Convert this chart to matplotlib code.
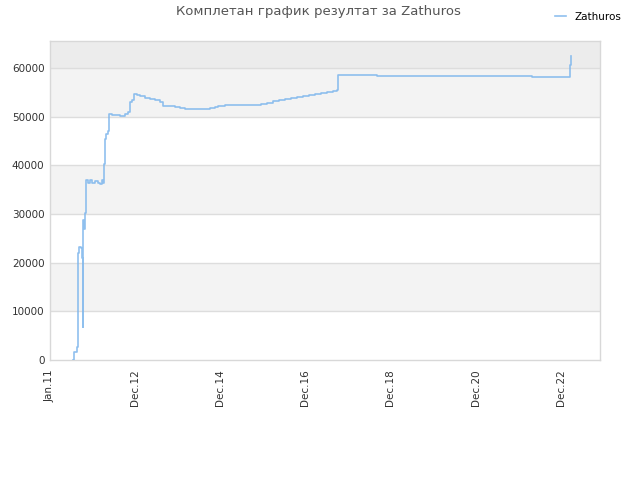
import matplotlib
matplotlib.use("Agg")
import matplotlib.pyplot as plt
import pandas as pd

title = "Комплетан график резултат за Zathuros"
series_name = "Zathuros"

dates = [
    "2011-07-14", "2011-07-25", "2011-08-20", "2011-08-26", "2011-08-31",
    "2011-09-06", "2011-09-23", "2011-10-02", "2011-10-08", "2011-10-13",
    "2011-10-19", "2011-10-28", "2011-11-05", "2011-11-22", "2011-12-10",
    "2011-12-27", "2012-01-21", "2012-02-16", "2012-03-04", "2012-03-21",
    "2012-03-30", "2012-04-08", "2012-04-16", "2012-04-25", "2012-05-12",
    "2012-05-25", "2012-06-15", "2012-07-11", "2012-08-23", "2012-10-05",
    "2012-10-31", "2012-11-17", "2012-12-04", "2012-12-21", "2013-01-16",
    "2013-02-11", "2013-03-26", "2013-05-08", "2013-06-20", "2013-08-01",
    "2013-08-27", "2013-10-26", "2013-12-08", "2014-01-20", "2014-03-04",
    "2014-07-10", "2014-10-04", "2014-11-16", "2014-12-12", "2015-02-10",
    "2015-06-19", "2015-10-25", "2015-12-15", "2016-02-05", "2016-03-27",
    "2016-05-18", "2016-07-08", "2016-08-29", "2016-10-19", "2016-12-09",
    "2017-01-30", "2017-03-22", "2017-05-13", "2017-07-03", "2017-08-24",
    "2017-09-25", "2017-10-06", "2018-09-02", "2020-07-01", "2022-04-23",
    "2023-03-18", "2023-03-22", "2023-03-26",
]
scores = [
    0, 1700, 2600, 7500, 22000,
    23200, 23000, 21000, 6800, 28700,
    27000, 30200, 37000, 36500, 37000,
    36300, 36800, 36500, 36200, 37000,
    36300, 40400, 45500, 46500, 47000,
    50600, 50300, 50400, 50200, 50600,
    51000, 53000, 53500, 54600, 54400,
    54200, 53800, 53600, 53500, 53000,
    52300, 52200, 52000, 51900, 51700,
    51700, 51800, 52000, 52300, 52400,
    52400, 52500, 52700, 52950, 53200,
    53400, 53600, 53800, 54000, 54200,
    54450, 54700, 54900, 55100, 55350,
    55600, 58700, 58500, 58400, 58200,
    58200, 60600, 62600,
]
y_ticks = [0, 10000, 20000, 30000, 40000, 50000, 60000]
y_max = 65600
x_start = "2011-01-01"
x_end = "2023-12-01"

x = pd.to_datetime(dates)

fig = plt.figure(figsize=(6.4, 4.8), dpi=100)
ax = fig.add_axes([50/640, 120/480, 550/640, 319/480])

# alternating bands
band_cols = ["#ffffff", "#f3f3f3"]
bounds = y_ticks + [y_max]
for i in range(len(bounds) - 1):
    col = band_cols[i % 2]
    if i == len(bounds) - 2:
        col = "#ececec"
    ax.axhspan(bounds[i], bounds[i + 1], color=col, zorder=0, lw=0)
for yv in y_ticks[1:]:
    ax.axhline(yv, color="#dddddd", lw=1, zorder=1)

ax.plot(x, scores, drawstyle="steps-post", color="#7cb5ec", lw=1.2,
        alpha=0.85, zorder=3, label=series_name)

x0 = pd.Timestamp(x_start)
ax.set_xlim(x0, pd.Timestamp(x_end))
ax.set_ylim(0, y_max)
tick_dates = [x0 + pd.Timedelta(days=730 * k) for k in range(7)]
ax.set_xticks(tick_dates)
ax.set_xticklabels([d.strftime("%b.%y") for d in tick_dates], rotation=90,
                   fontsize=7.5, color="#333333")
ax.set_yticks(y_ticks)
ax.set_yticklabels([str(v) for v in y_ticks], fontsize=7.5, color="#333333")
ax.tick_params(axis="y", length=0, pad=4)
ax.tick_params(axis="x", length=0, pad=7)
for s in ax.spines.values():
    s.set_color("#d8d8d8")
    s.set_linewidth(1)

fig.text(0.497, 0.975, title, ha="center", va="center", fontsize=9.5,
         color="#555555")
fig.legend(loc="upper right", bbox_to_anchor=(0.985, 0.995), frameon=False,
           fontsize=7.5, handlelength=1.0, handletextpad=0.8)

fig.savefig("out.png", dpi=100)
